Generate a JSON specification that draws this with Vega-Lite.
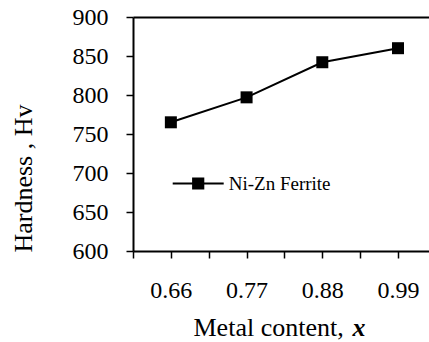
{
  "$schema": "https://vega.github.io/schema/vega-lite/v6.json",
  "autosize": {"type": "none"},
  "padding": {"left": 133, "top": 17, "right": 0, "bottom": 91},
  "width": 296,
  "height": 234,
  "data": {"values": [
    {"x": 0.66, "hv": 765, "series": "Ni-Zn Ferrite"},
    {"x": 0.77, "hv": 797, "series": "Ni-Zn Ferrite"},
    {"x": 0.88, "hv": 842, "series": "Ni-Zn Ferrite"},
    {"x": 0.99, "hv": 860, "series": "Ni-Zn Ferrite"}
  ]},
  "config": {
    "view": {"stroke": null},
    "font": "Liberation Serif",
    "axis": {
      "labelFont": "Liberation Serif",
      "titleFont": "Liberation Serif",
      "labelColor": "black",
      "titleColor": "black",
      "domainColor": "black",
      "tickColor": "black",
      "titleFontWeight": "normal",
      "labelFontWeight": "normal",
      "grid": false,
      "domainWidth": 2,
      "tickWidth": 1.5,
      "tickSize": 7
    },
    "legend": {"labelFont": "Liberation Serif"}
  },
  "resolve": {"axis": {"x": "independent", "y": "independent"}},
  "layer": [
    {
      "mark": {"type": "line", "color": "black", "strokeWidth": 2},
      "encoding": {
        "x": {
          "field": "x", "type": "quantitative",
          "scale": {"domain": [0.605, 1.035], "nice": false, "zero": false},
          "axis": {
            "values": [0.605, 0.66, 0.715, 0.77, 0.825, 0.88, 0.935, 0.99],
            "labelExpr": "datum.value == 0.66 || datum.value == 0.77 || datum.value == 0.88 || datum.value == 0.99 ? format(datum.value, '.2f') : ''",
            "labelFont": "Liberation Serif",
            "labelFontSize": 24,
            "labelPadding": 20,
            "labelFlush": false,
            "labelOverlap": false,
            "labelBaseline": "top",
            "title": "Metal content,",
            "titleFont": "Liberation Serif",
            "titleFontSize": 26,
            "titleAlign": "left",
            "titleBaseline": "alphabetic",
            "titleX": 60,
            "titleY": 84
          }
        },
        "y": {
          "field": "hv", "type": "quantitative",
          "scale": {"domain": [600, 900], "nice": false, "zero": false},
          "axis": {
            "values": [600, 650, 700, 750, 800, 850, 900],
            "labelFont": "Liberation Serif",
            "labelFontSize": 24,
            "labelPadding": 18,
            "labelOverlap": false,
            "title": "Hardness , Hv",
            "titleFont": "Liberation Serif",
            "titleFontSize": 26,
            "titleAngle": -90,
            "titleAlign": "center",
            "titleBaseline": "middle",
            "titleX": -110,
            "titleY": 161
          }
        }
      }
    },
    {
      "mark": {"type": "point", "shape": "square", "filled": true, "size": 144, "opacity": 1},
      "encoding": {
        "x": {
          "field": "x", "type": "quantitative",
          "axis": {"orient": "top", "labels": false, "ticks": false, "title": null, "domain": true}
        },
        "y": {"field": "hv", "type": "quantitative", "axis": null},
        "color": {
          "field": "series", "type": "nominal",
          "scale": {"range": ["black"]},
          "legend": {
            "title": null,
            "orient": "none",
            "legendX": 38.7,
            "legendY": 140,
            "padding": 0,
            "symbolType": "M-1,0L1,0M-0.2,-0.2L0.2,-0.2L0.2,0.2L-0.2,0.2Z",
            "symbolSize": 2601,
            "symbolStrokeColor": "black",
            "symbolFillColor": "black",
            "symbolStrokeWidth": 2,
            "symbolOpacity": 1,
            "labelFont": "Liberation Serif",
            "labelFontSize": 19,
            "labelColor": "black",
            "labelOffset": 4
          }
        }
      }
    },
    {
      "mark": {"type": "point", "opacity": 0},
      "encoding": {
        "x": {
          "field": "x", "type": "quantitative",
          "axis": {
            "orient": "bottom", "labels": false, "ticks": false, "domain": false,
            "title": "x",
            "titleFont": "Liberation Serif",
            "titleFontSize": 26,
            "titleFontStyle": "italic",
            "titleFontWeight": "bold",
            "titleAlign": "left",
            "titleBaseline": "alphabetic",
            "titleX": 219,
            "titleY": 84
          }
        },
        "y": {"field": "hv", "type": "quantitative", "axis": null}
      }
    }
  ]
}
